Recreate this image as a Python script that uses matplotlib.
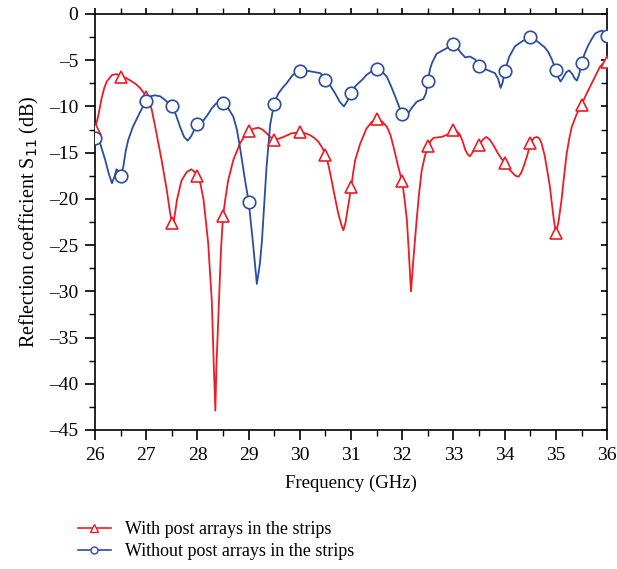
import matplotlib.pyplot as plt
from matplotlib.ticker import MultipleLocator
from matplotlib.lines import Line2D

# ----------------------------- data -----------------
# traced curve, with post arrays (red)
with_freq = [26.00, 26.06, 26.13, 26.18, 26.23, 26.33, 26.42, 26.50, 26.60, 26.72,
             26.80, 26.88, 27.00, 27.06, 27.11, 27.20, 27.30, 27.40, 27.46, 27.50,
             27.54, 27.60, 27.69, 27.79, 27.88, 27.95, 28.00, 28.06, 28.12, 28.21,
             28.28, 28.32, 28.35, 28.37, 28.42, 28.46, 28.50, 28.55, 28.60, 28.70,
             28.83, 28.92, 29.00, 29.10, 29.19, 29.27, 29.35, 29.42, 29.50, 29.58,
             29.68, 29.76, 29.84, 30.00, 30.10, 30.20, 30.28, 30.36, 30.44, 30.50,
             30.56, 30.62, 30.68, 30.75, 30.81, 30.85, 30.89, 30.92, 30.96, 31.00,
             31.04, 31.08, 31.18, 31.30, 31.40, 31.50, 31.60, 31.70, 31.77, 31.83,
             31.92, 32.00, 32.05, 32.09, 32.13, 32.17, 32.21, 32.28, 32.33, 32.38,
             32.44, 32.50, 32.56, 32.61, 32.77, 32.90, 33.00, 33.07, 33.13, 33.18,
             33.23, 33.28, 33.32, 33.37, 33.42, 33.50, 33.57, 33.64, 33.71, 33.78,
             33.86, 33.93, 34.00, 34.07, 34.14, 34.21, 34.27, 34.32, 34.37, 34.44,
             34.50, 34.57, 34.63, 34.68, 34.72, 34.78, 34.83, 34.88, 34.92, 34.96,
             35.00, 35.05, 35.11, 35.16, 35.21, 35.26, 35.31, 35.40, 35.50, 35.60,
             35.70, 35.78, 35.86, 35.93, 36.00]
with_db = [-12.4, -11.1, -9.1, -8.0, -7.3, -6.6, -6.5, -6.7, -6.9, -7.3,
           -7.6, -8.0, -8.9, -9.5, -10.4, -12.9, -15.8, -19.0, -21.3, -22.6,
           -22.4, -20.1, -18.0, -17.1, -16.8, -17.1, -17.5, -18.4, -20.1, -24.8,
           -31.0, -38.2, -42.9, -38.2, -31.0, -25.5, -21.8, -19.8, -18.0, -15.8,
           -14.0, -13.2, -12.7, -12.4, -12.3, -12.5, -12.9, -13.3, -13.6, -13.5,
           -13.3, -13.1, -12.9, -12.8, -12.9, -13.1, -13.4, -13.8, -14.5, -15.2,
           -16.4, -18.0, -19.7, -21.6, -22.8, -23.4, -22.6, -21.6, -20.2, -18.8,
           -17.2, -15.8, -14.0, -12.4, -11.7, -11.4, -11.6, -12.2, -13.1, -14.4,
           -16.5, -18.2, -20.3, -22.3, -26.0, -30.0, -27.0, -22.3, -19.3, -16.9,
           -15.4, -14.3, -13.7, -13.4, -13.3, -13.0, -12.6, -12.7, -13.1, -13.8,
           -14.7, -15.2, -15.4, -15.0, -14.5, -14.2, -13.6, -13.3, -13.6, -14.2,
           -15.0, -15.6, -16.1, -16.7, -17.1, -17.5, -17.6, -17.2, -16.5, -15.3,
           -14.0, -13.4, -13.3, -13.5, -14.0, -15.3, -16.9, -18.6, -20.5, -22.3,
           -23.7, -22.5, -20.1, -17.5, -15.1, -13.5, -12.2, -10.9, -9.8, -8.6,
           -7.5, -6.6, -5.7, -5.3, -5.0]

# traced curve, without post arrays (blue)
without_freq = [26.00, 26.10, 26.20, 26.27, 26.33, 26.38, 26.42, 26.46, 26.50, 26.55,
                26.60, 26.65, 26.74, 26.88, 27.00, 27.08, 27.17, 27.27, 27.37, 27.50,
                27.58, 27.66, 27.74, 27.81, 27.88, 27.94, 28.00, 28.06, 28.12, 28.20,
                28.28, 28.36, 28.43, 28.50, 28.60, 28.70, 28.77, 28.83, 28.93, 29.00,
                29.08, 29.16, 29.22, 29.26, 29.35, 29.42, 29.50, 29.58, 29.66, 29.74,
                29.86, 30.00, 30.10, 30.20, 30.30, 30.40, 30.50, 30.60, 30.69, 30.78,
                30.86, 30.93, 31.00, 31.07, 31.14, 31.22, 31.30, 31.40, 31.50, 31.60,
                31.70, 31.78, 31.86, 31.95, 32.00, 32.05, 32.12, 32.18, 32.28, 32.36,
                32.41, 32.46, 32.50, 32.54, 32.58, 32.67, 32.80, 32.90, 33.00, 33.07,
                33.13, 33.23, 33.32, 33.42, 33.50, 33.58, 33.68, 33.81, 33.87, 33.92,
                33.96, 34.00, 34.05, 34.09, 34.20, 34.33, 34.42, 34.50, 34.60, 34.69,
                34.78, 34.85, 34.92, 35.00, 35.05, 35.09, 35.14, 35.20, 35.26, 35.32,
                35.37, 35.41, 35.45, 35.50, 35.56, 35.63, 35.70, 35.77, 35.84, 35.90,
                35.95, 36.00]
without_db = [-13.2, -14.0, -15.8, -17.3, -18.3, -17.6, -16.8, -17.0, -17.5, -16.6,
              -14.8, -13.6, -12.2, -10.6, -9.4, -8.9, -8.8, -8.9, -9.3, -10.0,
              -10.9, -12.2, -13.3, -13.7, -13.2, -12.5, -11.9, -11.7, -11.5, -10.9,
              -10.2, -9.7, -9.5, -9.6, -10.2, -11.1, -12.5, -14.4, -18.0, -20.3,
              -24.5, -29.2, -27.0, -24.5, -16.5, -12.0, -9.6, -8.6, -8.0, -7.5,
              -6.6, -6.1, -6.1, -6.2, -6.3, -6.4, -7.1, -7.8, -8.6, -9.5,
              -10.0, -9.4, -8.6, -7.9, -7.5, -7.1, -6.6, -6.2, -6.0, -6.2,
              -6.8, -7.8, -8.9, -10.2, -10.8, -11.1, -10.7, -10.2, -9.5, -9.3,
              -9.2, -8.6, -7.3, -6.0, -5.3, -4.3, -3.9, -3.6, -3.2, -3.6,
              -4.1, -4.7, -4.6, -4.9, -5.6, -5.9, -6.1, -6.4, -7.0, -8.0,
              -7.4, -6.2, -5.3, -4.6, -3.5, -3.0, -2.7, -2.5, -2.8, -3.2,
              -3.6, -4.1, -4.9, -6.1, -6.9, -7.3, -6.9, -6.3, -6.1, -6.5,
              -7.0, -7.2, -6.6, -5.4, -4.3, -3.4, -2.7, -2.1, -1.9, -1.8,
              -2.0, -2.4]

# marker samples every 0.5 GHz
marker_freq = [26.0, 26.5, 27.0, 27.5, 28.0, 28.5, 29.0, 29.5, 30.0, 30.5, 31.0,
               31.5, 32.0, 32.5, 33.0, 33.5, 34.0, 34.5, 35.0, 35.5, 36.0]
with_marker_db = [-12.4, -6.8, -9.0, -22.6, -17.5, -21.8, -12.7, -13.6, -12.8, -15.2, -18.7,
                  -11.4, -18.1, -14.3, -12.6, -14.2, -16.1, -14.0, -23.7, -9.8, -5.2]
without_marker_db = [-13.4, -17.5, -9.4, -10.0, -11.9, -9.6, -20.3, -9.7, -6.2, -7.1, -8.6,
                     -6.0, -10.8, -7.3, -3.2, -5.6, -6.2, -2.5, -6.1, -5.3, -2.4]

y_ticks = list(range(-45, 1, 5))
labels = ["With post arrays in the strips", "Without post arrays in the strips"]
RED, BLUE = "#ec1c24", "#2b4ca3"

# ------------------------------- plot ----------------------------------------
plt.rcParams.update({"font.family": "Liberation Serif", "font.size": 13})
fig = plt.figure(figsize=(6.17, 5.69), dpi=100)
ax = fig.add_axes([0.154, 0.2443, 0.830, 0.7311])

ax.plot(with_freq, with_db, color=RED, lw=1.3, zorder=2)
ax.plot(without_freq, without_db, color=BLUE, lw=1.3, zorder=3)
ax.plot(marker_freq, with_marker_db, ls="none", marker="^", ms=9, mfc="white",
        mec=RED, mew=1.2, zorder=4)
ax.plot(marker_freq, without_marker_db, ls="none", marker="o", ms=9, mfc="white",
        mec=BLUE, mew=1.2, zorder=5)

ax.set_xlim(26, 36)
ax.set_ylim(-45, 0)
ax.xaxis.set_major_locator(MultipleLocator(1))
ax.xaxis.set_minor_locator(MultipleLocator(0.5))
ax.yaxis.set_minor_locator(MultipleLocator(2.5))
ax.set_yticks(y_ticks)
ax.set_yticklabels([("\u2013" + str(-v)) if v < 0 else str(v) for v in y_ticks])

# left / bottom: outward ticks; top: short outward; right: short inward
ax.tick_params(axis="both", which="major", direction="out", length=7, width=1.2,
               labelsize=14, pad=5)
ax.tick_params(axis="both", which="minor", direction="out", length=4, width=1.0)
ax.tick_params(axis="x", which="both", top=True)
ax.tick_params(axis="y", which="both", right=True)
for t in ax.xaxis.get_major_ticks() + ax.xaxis.get_minor_ticks():
    t.tick2line.set_markersize(4)
for t in ax.yaxis.get_major_ticks() + ax.yaxis.get_minor_ticks():
    t.tick2line.set_marker(0)  # inward from right spine
    t.tick2line.set_markersize(4)
for sp in ax.spines.values():
    sp.set_linewidth(1.2)

ax.set_xlabel("Frequency (GHz)", fontsize=13.5, labelpad=8)
ax.set_ylabel("Reflection coefficient S$_{11}$ (dB)", fontsize=14.5, labelpad=6)

handles = [Line2D([], [], color=RED, lw=1.2, marker="^", ms=6, mfc="white", mec=RED),
           Line2D([], [], color=BLUE, lw=1.2, marker="o", ms=5, mfc="white", mec=BLUE)]
fig.legend(handles, labels, loc="upper left", bbox_to_anchor=(0.115, 0.097),
           frameon=False, fontsize=13, handlelength=1.8, handletextpad=0.8,
           labelspacing=0.3, borderaxespad=0.0)

fig.savefig("out.png", dpi=100)
